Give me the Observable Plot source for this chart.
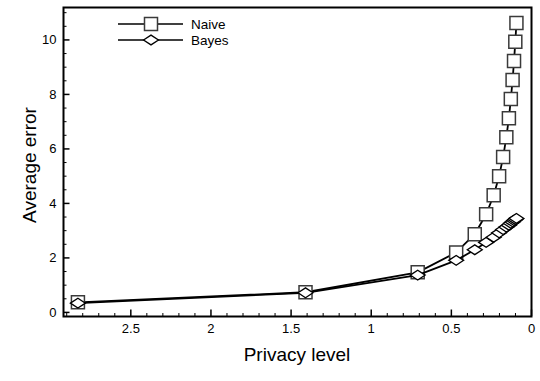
<!DOCTYPE html>
<html><head><meta charset="utf-8">
<script src="https://cdn.jsdelivr.net/npm/d3@7"></script>
<script src="https://cdn.jsdelivr.net/npm/@observablehq/plot@0.6"></script>
<style>
body{margin:0;background:#fff;}
#chart{position:relative;width:540px;height:381px;}
svg{font-family:"Liberation Sans",Arial,Helvetica,sans-serif;}
</style>
</head><body><div id="chart"></div>
<script>
// Data
const privacyLevel = [2.83, 1.41, 0.71, 0.47, 0.354, 0.283, 0.236, 0.202, 0.177, 0.157, 0.141, 0.129, 0.118, 0.109, 0.101, 0.094];
const naiveError = [0.37, 0.74, 1.47, 2.2, 2.87, 3.6, 4.3, 5.0, 5.7, 6.43, 7.13, 7.83, 8.53, 9.23, 9.93, 10.62];
const bayesError = [0.34, 0.72, 1.37, 1.91, 2.3, 2.57, 2.76, 2.92, 3.04, 3.13, 3.2, 3.27, 3.32, 3.37, 3.41, 3.45];
const seriesNames = ["Naive", "Bayes"];
const xMajorTicks = [0, 0.5, 1, 1.5, 2, 2.5];
const xMinorTicks = [0.1, 0.2, 0.3, 0.4, 0.6, 0.7, 0.8, 0.9, 1.1, 1.2, 1.3, 1.4, 1.6, 1.7, 1.8, 1.9, 2.1, 2.2, 2.3, 2.4, 2.6, 2.7, 2.8, 2.9];
const yMajorTicks = [0, 2, 4, 6, 8, 10];
const yMinorTicks = [0.5, 1, 1.5, 2.5, 3, 3.5, 4.5, 5, 5.5, 6.5, 7, 7.5, 8.5, 9, 9.5, 10.5, 11];
const xTitle = "Privacy level";
const yTitle = "Average error";

const naive = privacyLevel.map((x, i) => ({x, y: naiveError[i]}));
const bayes = privacyLevel.map((x, i) => ({x, y: bayesError[i]}));

const squareSym = {draw(ctx, size) {
  const s = Math.sqrt(size / Math.PI);
  ctx.moveTo(-s, -s); ctx.lineTo(s, -s); ctx.lineTo(s, s); ctx.lineTo(-s, s); ctx.closePath();
}};
const diamondSym = {draw(ctx, size) {
  const s = Math.sqrt(size / Math.PI);
  const w = s * 1.1, h = s * 0.72;
  ctx.moveTo(-w, 0); ctx.lineTo(0, -h); ctx.lineTo(w, 0); ctx.lineTo(0, h); ctx.closePath();
}};

const W = 540, H = 381;
const mL = 63, mR = 9, mT = 7, mB = 65;
const innerW = W - mL - mR, innerH = H - mT - mB;

const svg = Plot.plot({
  width: W, height: H,
  marginLeft: mL, marginRight: mR, marginTop: mT, marginBottom: mB,
  style: {fontFamily: '"Liberation Sans", Arial, sans-serif', fontSize: "13px", background: "white", color: "black"},
  x: {domain: [2.92, 0]},
  y: {domain: [-0.15, 11.19]},
  marks: [
    Plot.tickX(xMinorTicks, {x: d => d, insetTop: innerH - 3, stroke: "black", strokeWidth: 1}),
    Plot.tickX(xMajorTicks, {x: d => d, insetTop: innerH - 6.5, stroke: "black", strokeWidth: 1.5}),
    Plot.tickY(yMinorTicks, {y: d => d, insetRight: innerW - 3.5, stroke: "black", strokeWidth: 1}),
    Plot.tickY(yMajorTicks, {y: d => d, insetRight: innerW - 6.5, stroke: "black", strokeWidth: 1.5}),
    Plot.axisX({ticks: xMajorTicks, tickSize: 0, tickPadding: 7, tickFormat: d => String(d), label: null, fontSize: 13}),
    Plot.axisY({ticks: yMajorTicks, tickSize: 0, tickPadding: 7, tickFormat: d => String(d), label: null, fontSize: 13}),
    Plot.line(naive, {x: "x", y: "y", stroke: "black", strokeWidth: 1.8}),
    Plot.dot(naive, {x: "x", y: "y", symbol: squareSym, r: 6.5, fill: "white", stroke: "#3a3a3a", strokeWidth: 1.5}),
    Plot.line(bayes, {x: "x", y: "y", stroke: "black", strokeWidth: 1.8}),
    Plot.dot(bayes, {x: "x", y: "y", symbol: diamondSym, r: 6.8, fill: "white", stroke: "black", strokeWidth: 1.3}),
    Plot.frame({stroke: "black", strokeWidth: 2})
  ]
});
document.getElementById("chart").appendChild(svg);

const g = d3.select(svg).append("g");
// axis titles
g.append("text").attr("x", mL + innerW / 2).attr("y", 361).attr("text-anchor", "middle")
  .attr("font-size", 19).attr("fill", "black").text(xTitle);
g.append("text").attr("transform", `translate(36,165) rotate(-90)`).attr("text-anchor", "middle")
  .attr("font-size", 19).attr("fill", "black").text(yTitle);

// legend
const legendSyms = [squareSym, diamondSym];
const legendY = [24, 40];
seriesNames.forEach((name, i) => {
  const y = legendY[i];
  g.append("line").attr("x1", 118).attr("x2", 183).attr("y1", y).attr("y2", y)
    .attr("stroke", "black").attr("stroke-width", 1.5);
  const r = i === 0 ? 6.5 : 6.8;
  g.append("path").attr("transform", `translate(151,${y})`)
    .attr("d", d3.symbol(legendSyms[i], Math.PI * r * r)())
    .attr("fill", "white").attr("stroke", i === 0 ? "#3a3a3a" : "black").attr("stroke-width", i === 0 ? 1.5 : 1.3);
  g.append("text").attr("x", 191).attr("y", y + 5).attr("text-anchor", "start")
    .attr("font-size", 13.5).attr("fill", "black").text(name);
});
</script>
</body></html>
